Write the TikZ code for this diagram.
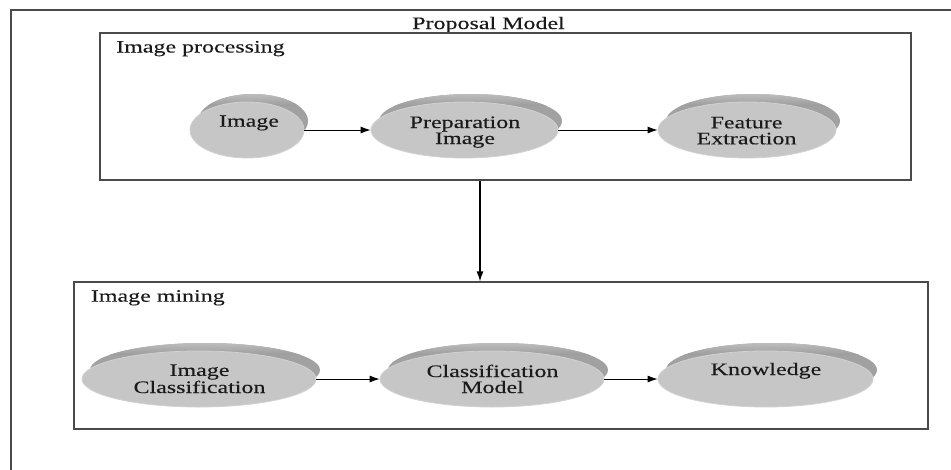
\documentclass[tikz,border=0pt]{standalone}
\usepackage{fontspec}
\setmainfont{Liberation Serif}[FakeStretch=1.37,FakeBold=0.2]
\usetikzlibrary{arrows.meta,calc,shapes.geometric}
\definecolor{txt}{HTML}{1A1A1A}
\definecolor{frame}{HTML}{4A4A4A}
\tikzset{
  lbl/.style={inner sep=0pt, text=txt, font=\fontsize{17.5}{16}\selectfont},
  box/.style={draw=frame, line width=1.1pt, inner sep=0pt, rectangle},
  diskbody/.style={ellipse, fill=gray!45, draw=gray!36, line width=0.8pt, inner sep=0pt},
  conn/.style={draw=black, line width=0.9pt, -{Latex[length=10pt,width=7pt]}},
}
\newcommand\mydisk[5]{%
  \begin{scope}
  \clip (#2+6,#3-9) ellipse [x radius={#4-2pt}, y radius={#5-1pt}];
  \fill[gray!74] (#2-#4,#3-45) rectangle (#2+#4+10,#3+45);
  \shade[top color=gray!48, bottom color=gray!76] (#2-#4,#3-10-#5) rectangle (#2+#4+10,#3-#5+3);
  \end{scope}
  \node[diskbody, minimum width={2*#4pt}, minimum height={2*#5pt}] (#1) at (#2,#3) {};
}
\begin{document}
\begin{tikzpicture}[x=1pt,y=-1pt]
\useasboundingbox (0,0) rectangle (951,469);
\begin{scope}
\clip (0,0) rectangle (951,469);
\draw[frame, line width=1.5pt] (11,480) -- (11,10) -- (960,10);
\end{scope}
\node[lbl, anchor=base] (title) at (488.5,29) {Proposal Model};
% boxes
\node[box, minimum width=811pt, minimum height=147pt] (topbox) at (505.5,106.5) {};
\node[box, minimum width=854pt, minimum height=147pt] (botbox) at (501,355.5) {};
\node[lbl, anchor=base west] (tp) at (116,52.5) {Image processing};
\node[lbl, anchor=base west] (tm) at (90.7,301.7) {Image mining};
% disks top
\mydisk{d1}{247}{130}{57}{28}
\mydisk{d2}{464.5}{130}{93.5}{28}
\mydisk{d3}{747}{130}{89}{28}
\node[lbl, anchor=base] (t1) at (249,126.7) {Image};
\node[lbl, anchor=base, align=center] (t2) at (465,144) {Preparation\\Image};
\node[lbl, anchor=base, align=center] (t3) at (746.5,144.3) {Feature\\Extraction};
% disks bottom
\mydisk{d4}{199}{379}{117}{28}
\mydisk{d5}{492}{379}{112}{28}
\mydisk{d6}{765.5}{379}{107.5}{28}
\node[lbl, anchor=base, align=center] (t4) at (199.5,393) {Image\\Classification};
\node[lbl, anchor=base, align=center] (t5) at (492.5,393) {Classification\\Model};
\node[lbl, anchor=base] (t6) at (766,375) {Knowledge};
% connectors
\draw[conn] (d1.east) -- (d2.west);
\draw[conn] (d2.east) -- (d3.west);
\draw[conn] (d4.east) -- (d5.west);
\draw[conn] (d5.east) -- (d6.west);
\coordinate (vx) at (480,230);
\draw[conn, line width=1.3pt] (topbox.south -| vx) -- (botbox.north -| vx);
\end{tikzpicture}
\end{document}
